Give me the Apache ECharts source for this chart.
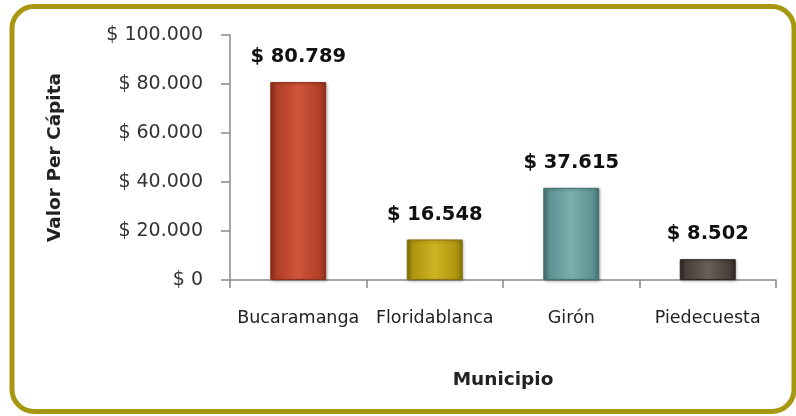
<!DOCTYPE html>
<html lang="es">
<head>
  <meta charset="utf-8"/>
  <title>Valor Per Cápita por Municipio</title>
  <script src="https://cdn.jsdelivr.net/npm/echarts@6/dist/echarts.min.js"></script>
  <style>
    html, body { margin: 0; padding: 0; background: #fff; }
  </style>
</head>
<body>
<div id="main" style="width: 796px;height: 416px"></div>
<script type="text/javascript">
  // datos
  var municipios = ['Bucaramanga', 'Floridablanca', 'Girón', 'Piedecuesta'];
  var valores = [80789, 16548, 37615, 8502];
  var yTicks = [0, 20000, 40000, 60000, 80000, 100000];

  // colores de cada barra (claro, medio, oscuro)
  var colores = [
    ['#d0553a', '#b23f27', '#8e2e1b'],
    ['#cdb422', '#ae960f', '#85720a'],
    ['#7aaeae', '#5e9393', '#457171'],
    ['#6a5e58', '#4a3f3a', '#2f2724']
  ];

  function pesos(v) {
    return '$ ' + String(v).replace(/\B(?=(\d{3})+(?!\d))/g, '.');
  }

  var myChart = echarts.init(document.getElementById('main'));

  var fuente = 'DejaVu Sans';

  myChart.setOption({
    animation: false,
    grid: {
      left: 230,
      right: 20,
      top: 35,
      bottom: 136
    },
    graphic: [{
      type: 'rect',
      shape: { x: 12, y: 6.5, width: 782, height: 405, r: 22 },
      style: { fill: 'none', stroke: '#a89710', lineWidth: 5 },
      z: 100
    }],
    xAxis: {
      type: 'category',
      data: municipios,
      name: 'Municipio',
      nameLocation: 'middle',
      nameGap: 91,
      nameTextStyle: { fontFamily: fuente, fontWeight: 'bold', fontSize: 18.5, color: '#222' },
      axisLine: { lineStyle: { color: '#888', width: 1.5 } },
      axisTick: { show: true, length: 8, alignWithLabel: false, lineStyle: { color: '#888', width: 1.5 } },
      axisLabel: { fontFamily: fuente, fontSize: 17.5, color: '#222', margin: 29, interval: 0 }
    },
    yAxis: {
      type: 'value',
      min: yTicks[0],
      max: yTicks[yTicks.length - 1],
      interval: yTicks[1] - yTicks[0],
      name: 'Valor Per Cápita',
      nameLocation: 'middle',
      nameRotate: 90,
      nameGap: 165,
      nameTextStyle: { fontFamily: fuente, fontWeight: 'bold', fontSize: 18.5, color: '#222' },
      splitLine: { show: false },
      axisLine: { show: true, lineStyle: { color: '#888', width: 1.5 } },
      axisTick: { show: true, length: 9, lineStyle: { color: '#888', width: 1.5 } },
      axisLabel: {
        fontFamily: fuente, fontSize: 19, color: '#333', margin: 27,
        formatter: pesos
      }
    },
    series: [{
      type: 'bar',
      barWidth: '41%',
      data: valores.map(function (v, i) {
        return {
          value: v,
          itemStyle: {
            color: {
              type: 'linear', x: 0, y: 0, x2: 1, y2: 0,
              colorStops: [
                { offset: 0, color: colores[i][2] },
                { offset: 0.12, color: colores[i][1] },
                { offset: 0.5, color: colores[i][0] },
                { offset: 0.88, color: colores[i][1] },
                { offset: 1, color: colores[i][2] }
              ]
            },
            borderColor: colores[i][2],
            borderWidth: 1,
            shadowColor: 'rgba(0,0,0,0.3)',
            shadowBlur: 3,
            shadowOffsetX: 1,
            shadowOffsetY: 1
          }
        };
      }),
      label: {
        show: true,
        position: 'top',
        distance: 15,
        fontFamily: fuente,
        fontWeight: 'bold',
        fontSize: 19.5,
        color: '#111',
        formatter: function (p) { return pesos(p.value); }
      }
    }]
  });
</script>
</body>
</html>
